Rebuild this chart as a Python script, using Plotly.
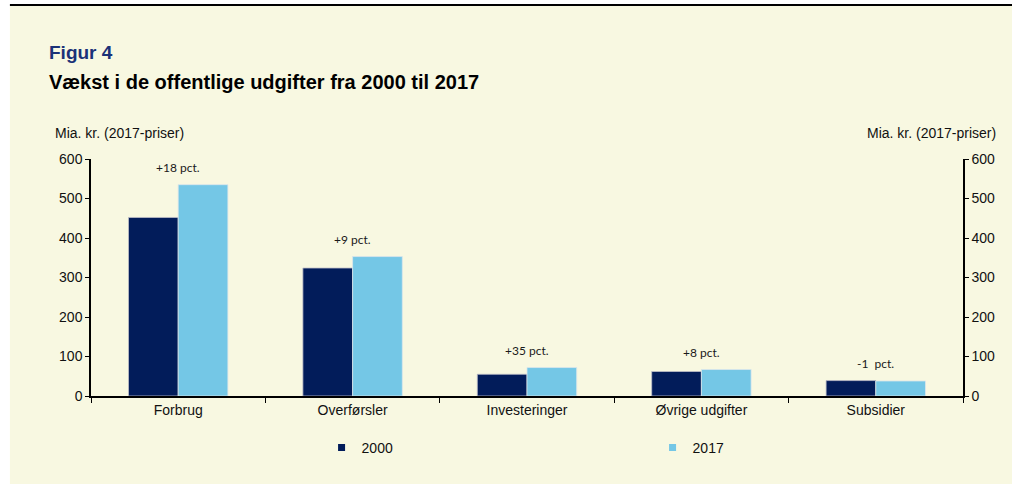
import plotly.graph_objects as go

categories = ["Forbrug", "Overførsler", "Investeringer", "Øvrige udgifter", "Subsidier"]
values_2000 = [452, 324, 55, 62, 39]
values_2017 = [535, 353, 72, 67, 38]
pct_labels = ["+18 pct.", "+9 pct.", "+35 pct.", "+8 pct.", "-1\u00a0 pct."]
y_ticks = [0, 100, 200, 300, 400, 500, 600]

DARK = "#021C5A"
LIGHT = "#74C7E6"
BG = "#F8F8E1"
FONT = "Liberation Sans, Arial, sans-serif"

fig = go.Figure()
fig.add_trace(go.Bar(x=categories, y=values_2000, name="2000", marker=dict(color=DARK, line=dict(color="rgba(190,190,200,0.8)", width=1)), showlegend=False))
fig.add_trace(go.Bar(x=categories, y=values_2017, name="2017", marker=dict(color=LIGHT, line=dict(color="rgba(220,230,235,0.8)", width=1)), showlegend=False))
# legend entries
fig.add_trace(go.Scatter(x=[categories[0]], y=[None], mode="markers", name="2000", marker=dict(symbol="square", size=7, color=DARK)))
fig.add_trace(go.Scatter(x=[categories[0]], y=[None], mode="markers", name="2017", marker=dict(symbol="square", size=7, color=LIGHT)))

for c, a, b, t in zip(categories, values_2000, values_2017, pct_labels):
    fig.add_annotation(x=c, y=max(a, b), text=t, showarrow=False, yanchor="bottom", yshift=8,
                       font=dict(family="Lato, Carlito, sans-serif", size=12, color="#1a1a1a"))

fig.add_annotation(xref="paper", yref="paper", x=-0.0436, y=1.11, text="Mia. kr. (2017-priser)", showarrow=False,
                   xanchor="left", yanchor="middle", font=dict(family=FONT, size=14, color="#111"))
fig.add_annotation(xref="paper", yref="paper", x=1.040, y=1.11, text="Mia. kr. (2017-priser)", showarrow=False,
                   xanchor="right", yanchor="middle", font=dict(family=FONT, size=14, color="#111"))
fig.add_annotation(xref="paper", yref="paper", x=-0.0505, y=1.451, text="<b>Figur 4</b>", showarrow=False,
                   xanchor="left", yanchor="middle", font=dict(family=FONT, size=19, color="#1B3278"))
fig.add_annotation(xref="paper", yref="paper", x=-0.0505, y=1.325, text="<b>Vækst i de offentlige udgifter fra 2000 til 2017</b>", showarrow=False,
                   xanchor="left", yanchor="middle", font=dict(family=FONT, size=20, color="#000"))

fig.add_shape(type="rect", xref="paper", yref="paper", x0=-0.093, x1=1.07, y0=-0.38, y1=1.646,
              fillcolor=BG, line=dict(width=0), layer="below")
fig.add_shape(type="line", xref="paper", yref="paper", x0=-0.093, x1=1.07, y0=1.650, y1=1.650,
              line=dict(color="black", width=2), layer="above")

fig.update_layout(
    width=1012, height=484,
    margin=dict(l=91, r=49, t=159, b=88, autoexpand=False),
    paper_bgcolor="white", plot_bgcolor="rgba(0,0,0,0)",
    barmode="group", bargap=0.43, bargroupgap=0,
    font=dict(family=FONT, size=14, color="#111"),
    legend=dict(orientation="h", x=0.644, y=-0.219, xanchor="center", yanchor="middle",
                entrywidth=286, entrywidthmode="pixels", itemwidth=30,
                font=dict(family=FONT, size=14, color="#111"), bgcolor="rgba(0,0,0,0)"),
    xaxis=dict(showline=True, linecolor="black", linewidth=2, ticks="outside", tickson="boundaries",
               ticklen=5, tickcolor="black", tickwidth=1, showgrid=False, automargin=False,
               tickfont=dict(family=FONT, size=14, color="#111")),
    yaxis=dict(range=[0, 600], tickvals=y_ticks, showline=True, linecolor="black", linewidth=1.5,
               ticks="outside", ticklen=4, tickcolor="black", showgrid=False, zeroline=False, automargin=False,
               tickfont=dict(family=FONT, size=14, color="#111")),
    yaxis2=dict(range=[0, 600], tickvals=y_ticks, overlaying="y", side="right", showline=True,
                linecolor="black", linewidth=1.5, ticks="outside", ticklen=4, tickcolor="black", automargin=False,
                showgrid=False, zeroline=False, tickfont=dict(family=FONT, size=14, color="#111")),
)
fig.add_trace(go.Scatter(x=[categories[0]], y=[None], yaxis="y2", showlegend=False, hoverinfo="skip"))

fig.write_html("out.html", config={"displayModeBar": False},
               post_script="document.body.style.margin='0';")
